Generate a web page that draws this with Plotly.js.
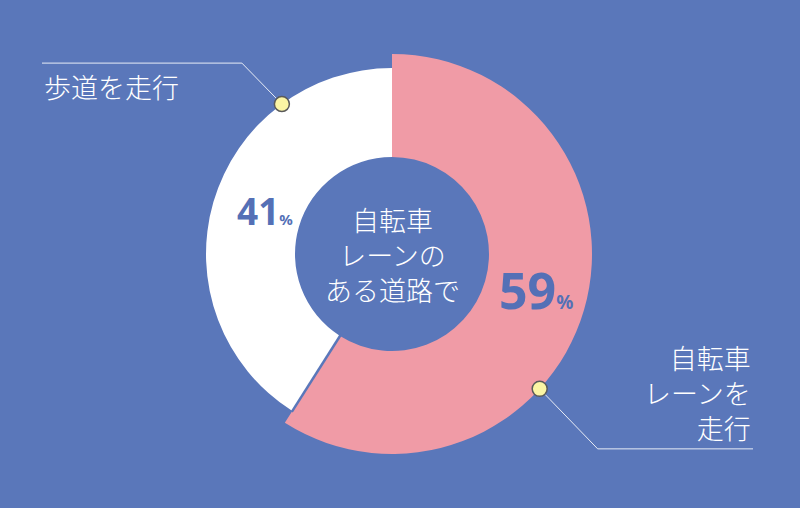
<!DOCTYPE html>
<html>
<head>
<meta charset="utf-8">
<script src="https://cdn.plot.ly/plotly-3.0.1.min.js"></script>
<style>
  html, body { margin: 0; padding: 0; background: #5a77ba; }
  #chart { width: 800px; height: 508px; }
</style>
</head>
<body>
<div id="chart"></div>
<script>
// データ
const labels = ['自転車レーンを走行', '歩道を走行'];
const values = [59, 41];
const labelText = ['自転車<br>レーンを<br>走行', '歩道を走行'];
const centerText = '自転車<br>レーンの<br>ある道路で';

const W = 800, H = 508;
const BG = '#5a77ba';
const PINK = '#f09ba6';
const WHITE = '#ffffff';

// ドーナツの位置 (px)
const cx = 392, cy = 254;
const rOuter = [200, 186];   // ピンク, 白
const rHole = 97;

const px = x => x / W;
const py = y => 1 - y / H;

function domainFor(r) {
    return { x: [px(cx - r), px(cx + r)], y: [py(cy + r), py(cy - r)] };
}

// 角度(12時から時計回り)→座標
function polar(deg, r) {
    const a = deg * Math.PI / 180;
    return [cx + Math.sin(a) * r, cy - Math.cos(a) * r];
}

const total = values.reduce((a, b) => a + b, 0);

const data = [
    {
        type: 'pie',
        values: values,
        labels: labels,
        sort: false,
        direction: 'clockwise',
        rotation: 0,
        hole: rHole / rOuter[0],
        domain: domainFor(rOuter[0]),
        textinfo: 'none',
        hoverinfo: 'none',
        showlegend: false,
        marker: { colors: [PINK, 'rgba(0,0,0,0)'], line: { width: 0 } }
    },
    {
        type: 'pie',
        values: values,
        labels: labels,
        sort: false,
        direction: 'clockwise',
        rotation: 0,
        hole: rHole / rOuter[1],
        domain: domainFor(rOuter[1]),
        textinfo: 'none',
        hoverinfo: 'none',
        showlegend: false,
        marker: { colors: ['rgba(0,0,0,0)', WHITE], line: { width: 0 } }
    }
];

const shapes = [];

// 白とピンクの境目 (下側のみ)
const seamAng = values[0] / total * 360;
const s0 = polar(seamAng, rHole - 2), s1 = polar(seamAng, rOuter[1] + 1);
shapes.push({ type: 'line', xref: 'paper', yref: 'paper', layer: 'above',
    x0: px(s0[0]), y0: py(s0[1]), x1: px(s1[0]), y1: py(s1[1]),
    line: { color: BG, width: 2.5 } });

// 引き出し線 (12時から時計回りの角度)
const dotAngle = [132.4, 323.7];
const dotR = [rOuter[0], rOuter[1]];
const dots = dotAngle.map((d, i) => polar(d, dotR[i]));

const pinkElbow = [dots[0][0] + 58, dots[0][1] + 60];
const whiteElbow = [dots[1][0] - 40, dots[1][1] - 41];
const lineStyle = { color: '#e8ecf6', width: 1 };

function seg(a, b) {
    return { type: 'line', xref: 'paper', yref: 'paper', layer: 'above',
        x0: px(a[0]), y0: py(a[1]), x1: px(b[0]), y1: py(b[1]), line: lineStyle };
}
shapes.push(seg(dots[0], pinkElbow));
shapes.push(seg(pinkElbow, [753, pinkElbow[1]]));
shapes.push(seg(dots[1], whiteElbow));
shapes.push(seg(whiteElbow, [42, whiteElbow[1]]));

const dr = 7.5;
dots.forEach(p => {
    shapes.push({ type: 'circle', xref: 'paper', yref: 'paper', layer: 'above',
        x0: px(p[0] - dr), x1: px(p[0] + dr), y0: py(p[1] + dr), y1: py(p[1] - dr),
        fillcolor: '#fbf5a4', line: { color: '#5a5a5a', width: 1.5 } });
});

const jp = '"Noto Sans CJK JP", "Noto Sans", sans-serif';
const num = '"Noto Sans", "Liberation Sans", sans-serif';
const numColor = '#5470b6';

const annotations = [
    { x: px(cx), y: py(cy), text: centerText, showarrow: false,
      xanchor: 'center', yanchor: 'middle',
      font: { family: jp, size: 27, color: WHITE, weight: 300 } },
    { x: px(753), y: py(392), text: labelText[0], showarrow: false, align: 'right',
      xanchor: 'right', yanchor: 'middle',
      font: { family: jp, size: 27, color: WHITE, weight: 300 } },
    { x: px(42), y: py(86), text: labelText[1], showarrow: false,
      xanchor: 'left', yanchor: 'middle',
      font: { family: jp, size: 27, color: WHITE, weight: 300 } },
    { x: px(536), y: py(290), text: values[0] + '<span style="font-size:19px">%</span>',
      showarrow: false, xanchor: 'center', yanchor: 'middle',
      font: { family: num, size: 50, color: numColor, weight: 700 } },
    { x: px(265), y: py(211), text: values[1] + '<span style="font-size:15px">%</span>',
      showarrow: false, xanchor: 'center', yanchor: 'middle',
      font: { family: num, size: 37, color: numColor, weight: 700 } }
];

const layout = {
    width: W,
    height: H,
    margin: { l: 0, r: 0, t: 0, b: 0 },
    paper_bgcolor: BG,
    plot_bgcolor: BG,
    showlegend: false,
    shapes: shapes,
    annotations: annotations
};

Plotly.newPlot('chart', data, layout, { displayModeBar: false, staticPlot: true });
</script>
</body>
</html>
